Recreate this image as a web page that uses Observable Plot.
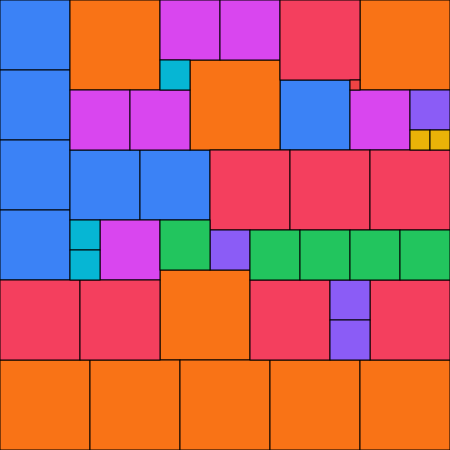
<!DOCTYPE html>
<html>
<head>
<meta charset="utf-8">
<script src="https://cdn.jsdelivr.net/npm/d3@7"></script>
<script src="https://cdn.jsdelivr.net/npm/@observablehq/plot@0.6"></script>
<style>
  html, body { margin: 0; padding: 0; background: #fff; }
  #chart svg { display: block; }
</style>
</head>
<body>
<div id="chart"></div>
<script>
// Categories and their colours
const categories = ["blue", "orange", "magenta", "rose", "cyan", "red", "purple", "yellow", "green"];
const palette = ["#3b82f6", "#f97316", "#d946ef", "#f43f5e", "#06b6d4", "#ef4444", "#8b5cf6", "#eab308", "#22c55e"];

// Cells: category, column, row, side (grid units of 10)
const cellCat  = ["blue","blue","blue","blue","blue","blue","blue",
                  "orange","orange","orange","orange","orange","orange","orange","orange","orange",
                  "magenta","magenta","magenta","magenta","magenta","magenta",
                  "rose","rose","rose","rose","rose","rose","rose","rose",
                  "cyan","cyan","cyan",
                  "red",
                  "purple","purple","purple","purple",
                  "yellow","yellow",
                  "green","green","green","green","green"];
const cellCol  = [0,0,0,0,7,14,28,
                  7,36,19,16,0,9,18,27,36,
                  16,22,7,13,35,10,
                  28,21,29,37,0,8,25,37,
                  16,7,7,
                  35,
                  41,21,33,33,
                  41,43,
                  16,25,30,35,40];
const cellRow  = [0,7,14,21,15,15,8,
                  0,0,6,27,36,36,36,36,36,
                  0,0,9,9,9,22,
                  0,15,15,15,28,28,28,28,
                  6,22,25,
                  8,
                  9,23,28,32,
                  13,13,
                  22,23,23,23,23];
const cellSide = [7,7,7,7,7,7,7,
                  9,9,9,9,9,9,9,9,9,
                  6,6,6,6,6,6,
                  8,8,8,8,8,8,8,8,
                  3,3,3,
                  1,
                  4,4,4,4,
                  2,2,
                  5,5,5,5,5];

const cells = cellCat.map((c, i) => ({cat: c, x: cellCol[i], y: cellRow[i], s: cellSide[i]}));

const chart = Plot.plot({
  width: 450,
  height: 450,
  margin: 0,
  x: {domain: [0, 45], axis: null},
  y: {domain: [0, 45], range: [0, 450], axis: null},
  color: {domain: categories, range: palette},
  marks: [
    Plot.rect(cells, {
      x1: "x", x2: d => d.x + d.s,
      y1: "y", y2: d => d.y + d.s,
      fill: "cat",
      stroke: "#000",
      strokeWidth: 1
    })
  ]
});
document.getElementById("chart").appendChild(chart);
</script>
</body>
</html>
